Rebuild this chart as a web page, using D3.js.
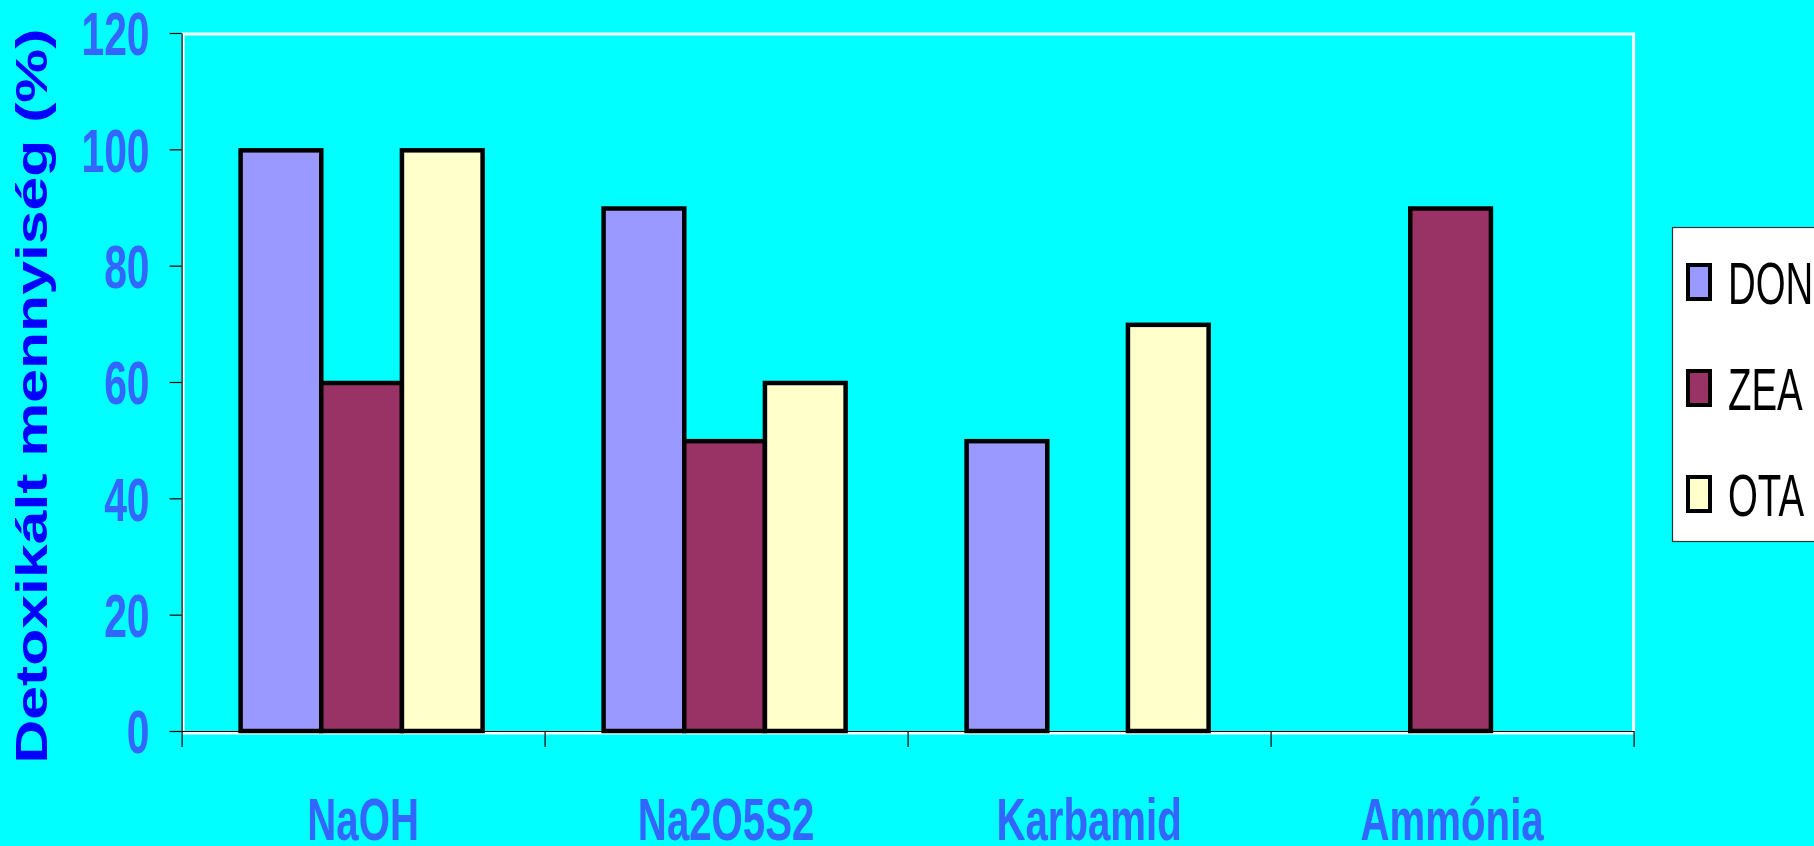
<!DOCTYPE html>
<html>
<head>
<meta charset="utf-8">
<script src="https://cdn.jsdelivr.net/npm/d3@7"></script>
<style>
  html, body { margin: 0; padding: 0; background: #00FFFF; }
  svg { display: block; }
  text { font-family: "Liberation Sans", Arial, sans-serif; }
</style>
</head>
<body>
<svg id="chart" width="1814" height="846"></svg>
<script>
const categories = ["NaOH", "Na2O5S2", "Karbamid", "Ammónia"];
const seriesNames = ["DON", "ZEA", "OTA"];
const DON = [100, 90, 50, null];
const ZEA = [60, 50, null, 90];
const OTA = [100, 60, 70, null];
const yTicks = [0, 20, 40, 60, 80, 100, 120];
const colors = ["#9999FF", "#993366", "#FFFFCC"];
const yTitle = "Detoxikált mennyiség (%)";

(function () {
const seriesValues = [DON, ZEA, OTA];
const W = 1814, H = 846;
const mLeft = 181.6, mRight = 1633.6, mTop = 33, mBottom = 731;
const sx = 0.67;

const svg = d3.select("#chart");
svg.append("rect").attr("width", W).attr("height", H).attr("fill", "#00FFFF");

const x = d3.scaleBand().domain(categories).range([mLeft, mRight]).paddingInner(0).paddingOuter(0);
const xSub = d3.scaleBand().domain(seriesNames).range([0, x.bandwidth()]).paddingInner(0).paddingOuter(0.75);
const y = d3.scaleLinear().domain([0, 120]).range([mBottom, mTop]);
const xLin = d3.scaleLinear().domain([0, categories.length]).range([mLeft, mRight]);

// plot area
svg.append("rect")
  .attr("x", mLeft + 1.5).attr("y", mTop + 1)
  .attr("width", mRight - mLeft - 1.5).attr("height", mBottom - mTop + 1)
  .attr("fill", "#00FFFF").attr("stroke", "#FFFFFF").attr("stroke-width", 3);

// bars
const barData = [];
categories.forEach((c, ci) => {
  seriesNames.forEach((s, si) => {
    const v = seriesValues[si][ci];
    if (v !== null && v !== undefined) barData.push({c, s, v, si});
  });
});
svg.append("g").selectAll("rect").data(barData).join("rect")
  .attr("x", d => x(d.c) + xSub(d.s) - 1.5)
  .attr("y", d => y(d.v) + 1)
  .attr("width", xSub.bandwidth())
  .attr("height", d => y(0) - y(d.v) - 1)
  .attr("fill", d => colors[d.si])
  .attr("stroke", "#000").attr("stroke-width", 4.5);

// y axis
const yAxis = svg.append("g").attr("transform", `translate(${mLeft},0)`)
  .call(d3.axisLeft(y).tickValues(yTicks).tickSize(12).tickSizeOuter(0));
yAxis.select(".domain").attr("stroke", "#000").attr("stroke-width", 1.2);
yAxis.selectAll(".tick line").attr("stroke", "#000").attr("stroke-width", 1.2);
yAxis.selectAll(".tick text")
  .attr("x", 0).attr("dy", "0.36em")
  .attr("transform", `translate(-32,0) scale(${sx},1)`)
  .attr("text-anchor", "end")
  .attr("font-size", 61).attr("font-weight", "bold")
  .attr("font-family", "'Liberation Sans', Arial, sans-serif")
  .attr("fill", "#3366FF");

// x axis (ticks at category boundaries)
const xAxis = svg.append("g").attr("transform", `translate(0,${mBottom})`)
  .call(d3.axisBottom(xLin).tickValues(d3.range(categories.length + 1)).tickFormat("").tickSize(16).tickSizeOuter(0));
xAxis.select(".domain").attr("stroke", "#000").attr("stroke-width", 1.2);
xAxis.selectAll(".tick line").attr("stroke", "#000").attr("stroke-width", 1.2);

// category labels
svg.append("g").selectAll("text").data(categories).join("text")
  .attr("transform", d => `translate(${x(d) + x.bandwidth() / 2},840) scale(${sx},1)`)
  .attr("text-anchor", "middle")
  .attr("font-size", 60).attr("font-weight", "bold")
  .attr("fill", "#3366FF")
  .text(d => d);

// y title
svg.append("text")
  .attr("transform", "translate(47,396) rotate(-90)")
  .attr("text-anchor", "middle")
  .attr("font-size", 44).attr("font-weight", "bold")
  .attr("fill", "#0000FF")
  .attr("textLength", 735).attr("lengthAdjust", "spacingAndGlyphs")
  .text(yTitle);

// legend
const lg = svg.append("g").attr("transform", "translate(1672,227)");
lg.append("rect").attr("x", 0.5).attr("y", 0.5).attr("width", 200).attr("height", 314)
  .attr("fill", "#FFFFFF").attr("stroke", "#333").attr("stroke-width", 1.2);
const li = lg.selectAll("g.item").data(seriesNames).join("g").attr("class", "item")
  .attr("transform", (d, i) => `translate(0,${55 + i * 106})`);
li.append("rect").attr("x", 16).attr("y", -17).attr("width", 22).attr("height", 34)
  .attr("fill", (d, i) => colors[i]).attr("stroke", "#000").attr("stroke-width", 4);
li.append("text")
  .attr("transform", `translate(56,0) scale(0.64,1)`)
  .attr("dy", "0.36em")
  .attr("font-size", 60)
  .attr("fill", "#000")
  .text(d => d);
})();
</script>
</body>
</html>
